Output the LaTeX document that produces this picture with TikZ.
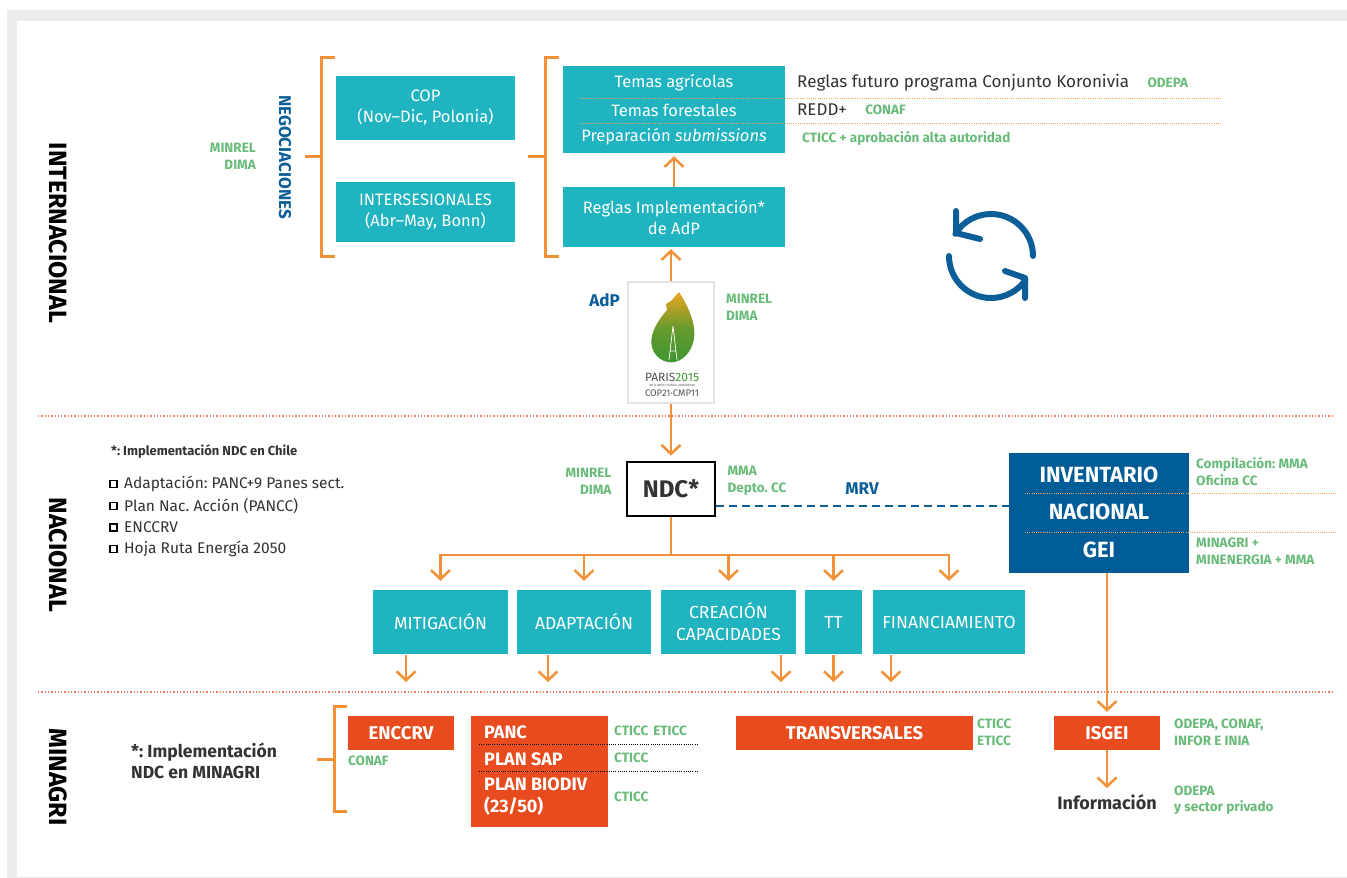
\documentclass[tikz,border=0pt]{standalone}
\usepackage{fontspec}
\setmainfont{Fira Sans}
\frenchspacing
\usetikzlibrary{arrows.meta,positioning,calc}

\definecolor{bggrey}{RGB}{236,236,236}
\definecolor{cyanbox}{RGB}{31,180,192}
\definecolor{arrorange}{RGB}{242,145,55}
\definecolor{orgred}{RGB}{232,76,30}
\definecolor{grntxt}{RGB}{105,187,122}
\definecolor{ndcblue}{RGB}{11,94,151}
\definecolor{invblue}{RGB}{0,92,150}
\definecolor{darktxt}{RGB}{51,51,51}
\definecolor{secred}{RGB}{240,125,95}
\definecolor{logogrey}{RGB}{228,228,228}
\definecolor{leafgreen}{RGB}{60,150,50}
\definecolor{leafyellow}{RGB}{235,165,30}

\tikzset{
  box/.style={fill=cyanbox, text=white, inner sep=0pt, align=center,
    font=\fontsize{16.5}{21}\selectfont},
  lowbox/.style={box, minimum height=64pt, font=\fontsize{17.5}{22}\selectfont},
  boxtxt/.style={text=white, inner sep=0pt, font=\fontsize{16.5}{21}\selectfont},
  redbox/.style={fill=orgred, text=white, inner sep=0pt,
    font=\bfseries\fontsize{18.5}{22}\selectfont},
  redtxt/.style={text=white, inner sep=0pt, align=left,
    font=\bfseries\fontsize{18}{22}\selectfont},
  invtxt/.style={text=white, inner sep=0pt, font=\bfseries\fontsize{22}{24}\selectfont},
  lbl/.style={text=grntxt, inner sep=0pt, font=\bfseries\fontsize{13.5}{17}\selectfont},
  blacktxt/.style={text=darktxt, inner sep=0pt, font=\fontsize{17}{19}\selectfont},
  bluelbl/.style={text=ndcblue, inner sep=0pt, font=\bfseries\fontsize{17}{20}\selectfont},
  sect/.style={rotate=-90, text=black, inner sep=0pt, font=\bfseries\fontsize{25}{28}\selectfont},
  orline/.style={draw=arrorange, line width=2.5pt},
  arr/.style={draw=arrorange, line width=2.5pt, -{Straight Barb[length=9pt,width=19pt]}},
  brk/.style={draw=arrorange, line width=3pt},
  secline/.style={draw=secred, line width=1.3pt, dash pattern=on 1.3pt off 2pt},
  sepline/.style={draw=arrorange!85, line width=1pt, dash pattern=on 1pt off 1.2pt},
  blkdot/.style={draw=black, line width=1pt, dash pattern=on 1pt off 1.2pt},
  mrvline/.style={draw=ndcblue, line width=2.5pt, dash pattern=on 8pt off 5pt},
  cyc/.style={draw=ndcblue, line width=6pt, line cap=round, line join=round},
  chkbox/.style={draw=black, line width=1.2pt, minimum size=7pt, inner sep=0pt},
}

\begin{document}
\begin{tikzpicture}[x=1pt,y=-1pt]
\useasboundingbox (0,0) rectangle (1347,878);
\fill[bggrey] (7,10) rectangle (1347,878);
\fill[white] (17,21) rectangle (1347,876.5);

\draw[secline] (38,416) -- (1333,416);
\draw[secline] (38,692) -- (1333,692);

\node[sect] (internac) at (58,233) {INTERNACIONAL};
\node[sect] (nacional) at (58,555) {NACIONAL};
\node[sect] (minagri) at (58,777) {MINAGRI};

% internacional
\node[bluelbl, rotate=-90] (negoc) at (285,157) {NEGOCIACIONES};
\node[lbl, align=right, anchor=east] (negorg) at (256,156) {MINREL\\DIMA};

\draw[brk] (335,57) -- (321,57) -- (321,256) -- (335,256);
\draw[brk] (305,156) -- (321,156);
\draw[brk] (559,57) -- (545,57) -- (545,256) -- (559,256);
\draw[brk] (528,156) -- (545,156);

\node[box, minimum width=179pt, minimum height=64pt] (cop) at (425.5,108) {COP\\(Nov--Dic, Polonia)};
\node[box, minimum width=179pt, minimum height=60pt] (intses) at (425.5,212) {INTERSESIONALES\\(Abr--May, Bonn)};

\node[box, minimum width=222pt, minimum height=87pt] (temas) at (674,109.5) {};
\draw[sepline] (580,98) -- (1221,98);
\draw[sepline] (580,123) -- (1221,123);
\node[boxtxt] (tagr) at (674,83) {Temas agrícolas};
\node[boxtxt] (tfor) at (674,110) {Temas forestales};
\node[boxtxt] (tsub) at (674,137) {Preparación \textit{submissions}};

\node[blacktxt, anchor=west] (koron) at (797,83) {Reglas futuro programa Conjunto Koronivia};
\node[lbl, right=18pt of koron] (odepa) {ODEPA};
\node[blacktxt, anchor=west] (redd) at (797,110) {REDD+};
\node[lbl, right=18pt of redd] (conaf) {CONAF};
\node[lbl, anchor=west] (cticc) at (802,138) {CTICC + aprobación alta autoridad};

\node[box, minimum width=222pt, minimum height=60pt] (reglas) at (674,217) {Reglas Implementación*\\de AdP};
\draw[arr, shorten >=3pt] (reglas.north) -- (temas.south);

% ciclo
\draw[cyc] (1033,256) arc[start angle=0, end angle=148, radius=42pt];
\draw[cyc] (956,211) -- (956,233) -- (980,239);
\draw[cyc] (949,256) arc[start angle=180, end angle=325, radius=42pt];
\draw[cyc] (1005,271) -- (1025,278) -- (1025,298);

% logo
\node[draw=logogrey, line width=2pt, fill=white, minimum width=86pt, minimum height=121pt, inner sep=0pt] (logo) at (671,342.5) {};
\shade[top color=leafyellow, bottom color=leafgreen, middle color=leafgreen!75!leafyellow] (679,292) .. controls (688,306) and (698,326) .. (693,343)
  .. controls (689,357) and (677,364) .. (668,362) .. controls (656,360) and (649,348) .. (652,336)
  .. controls (655,324) and (662,316) .. (667,310) -- (666,304) -- (671,301) -- cycle;
\draw[white, line width=0.7pt] (673,326) -- (669,360) (673,326) -- (677,360) (670,351) -- (676,351);
\node[inner sep=0pt, text=darktxt!85, font=\fontsize{12}{13}\selectfont] (paris) at (672,377) {PARIS\textcolor{leafgreen}{2015}};
\node[inner sep=0pt, text=darktxt!85, font=\fontsize{3}{3.5}\selectfont] (uncc) at (672,385) {UN CLIMATE CHANGE CONFERENCE};
\node[inner sep=0pt, text=darktxt!85, font=\fontsize{9.5}{11}\selectfont] (cop21) at (672,393) {COP21·CMP11};
\draw[arr, shorten >=2pt] (logo.north) -- (logo.north |- reglas.south);

\node[bluelbl, anchor=east] (adp) at (620,300) {AdP};
\node[lbl, align=left, anchor=west] (logoorg) at (726,307.5) {MINREL\\DIMA};

% nacional
\node[draw=black, line width=2.8pt, fill=white, minimum width=88pt, minimum height=54pt, inner sep=0pt,
  text=darktxt, font=\bfseries\fontsize{24}{28}\selectfont] (ndc) at (671,489) {NDC*};
\draw[arr, shorten >=5pt] (logo.south) -- (ndc.north);
\node[lbl, align=right, left=14pt of ndc, yshift=8pt] (ndcorg) {MINREL\\DIMA};
\node[lbl, align=left, right=11pt of ndc, yshift=8pt] (ndcmma) {MMA\\Depto. CC};
\node[bluelbl] (mrv) at (862,489) {MRV};

\node[fill=invblue, minimum width=180pt, minimum height=120pt, inner sep=0pt] (inv) at (1099,513) {};
\draw[sepline] (1025,493) -- (1337,493);
\draw[sepline] (1025,532) -- (1337,532);
\node[invtxt] (inv1) at (1099,475) {INVENTARIO};
\node[invtxt] (inv2) at (1099,512) {NACIONAL};
\node[invtxt] (inv3) at (1099,550) {GEI};
\node[lbl, align=left, anchor=west] (invorg) at (1196,471.5) {Compilación: MMA\\Oficina CC};
\node[lbl, align=left, anchor=west] (invmin) at (1196,551.5) {MINAGRI +\\MINENERGIA + MMA};
\draw[mrvline] ([yshift=-17pt]ndc.east) -- ([yshift=-17pt]ndc.east -| inv.west);

\node[anchor=west, inner sep=0pt, text=darktxt, font=\bfseries\fontsize{13}{15}\selectfont] (implnac) at (111,452) {*: Implementación NDC en Chile};
\foreach \t/\y [count=\i] in {Adaptación: PANC+9 Panes sect./484, Plan Nac. Acción (PANCC)/506, ENCCRV/527.5, Hoja Ruta Energía 2050/549}{
  \node[chkbox] (chk\i) at (113.5,\y) {};
  \node[anchor=west, inner sep=0pt, text=darktxt, font=\fontsize{15.5}{17}\selectfont] (item\i) at (124,\y) {\t};
}

\node[lowbox, minimum width=135pt] (mit) at (440.5,622) {MITIGACIÓN};
\node[lowbox, minimum width=134pt] (adap) at (584,622) {ADAPTACIÓN};
\node[lowbox, minimum width=135pt] (crea) at (728.5,622) {CREACIÓN\\CAPACIDADES};
\node[lowbox, minimum width=57pt] (tt) at (833.5,622) {TT};
\node[lowbox, minimum width=152pt] (fin) at (949,622) {FINANCIAMIENTO};

\coordinate (bus) at (671,555);
\draw[orline] (ndc.south) -- (bus);
\draw[orline, line cap=rect] (mit.north |- bus) -- (fin.north |- bus);
\foreach \b in {mit,adap,crea,tt,fin}
  \draw[arr, shorten >=9pt] (\b.north |- bus) -- (\b.north);
\foreach \b/\x in {mit/406,adap/548,crea/781,tt/833.5,fin/891}{
  \coordinate (\b-out) at (\x,682);
  \draw[arr] ([yshift=-1pt]\b-out |- \b.south) -- (\b-out);
}

% minagri
\node[anchor=west, inner sep=0pt, align=left, text=darktxt, font=\bfseries\fontsize{17.5}{21}\selectfont] (implmin) at (131,761) {*: Implementación\\NDC en MINAGRI};
\draw[brk] (347,706) -- (334,706) -- (334,811) -- (347,811);
\draw[brk] (317,759) -- (334,759);

\node[redbox, minimum width=106pt, minimum height=34pt] (enccrv) at (401,733) {ENCCRV};
\node[lbl, anchor=west] (enconaf) at (348,761) {CONAF};

\node[redbox, minimum width=137pt, minimum height=111pt] (panc) at (539.5,771.5) {};
\draw[blkdot] (479,744) -- (699,744);
\draw[blkdot] (479,771) -- (699,771);
\node[redtxt, anchor=west] (panc1) at (484,732) {PANC};
\node[redtxt, anchor=west] (panc2) at (484,759) {PLAN SAP};
\node[redtxt, anchor=west] (panc3) at (484,797) {PLAN BIODIV\\(23/50)};
\node[lbl, anchor=west] (pancorg) at (614,731) {CTICC\hspace{5pt}ETICC};
\node[lbl, anchor=west] (saporg) at (614,758) {CTICC};
\node[lbl, anchor=west] (biodorg) at (614,797) {CTICC};

\node[redbox, minimum width=237pt, minimum height=34pt] (transv) at (854.5,733) {TRANSVERSALES};
\node[lbl, align=left, anchor=west] (transorg) at (977,732) {CTICC\\ETICC};

\node[redbox, minimum width=106pt, minimum height=34pt] (isgei) at (1107,733) {ISGEI};
\node[lbl, align=left, anchor=west] (isgeiorg) at (1174,732) {ODEPA, CONAF,\\INFOR E INIA};
\draw[arr, shorten >=4pt] (inv.south -| isgei.north) -- (isgei.north);

\node[inner sep=0pt, text=darktxt, font=\bfseries\fontsize{18}{20}\selectfont] (info) at (1107,802) {Información};
\draw[arr, shorten >=6pt] (isgei.south) -- (info.north);
\node[lbl, align=left, anchor=west, font=\bfseries\fontsize{13.5}{16}\selectfont] (infoorg) at (1174,800) {ODEPA\\y sector privado};
\end{tikzpicture}
\end{document}
